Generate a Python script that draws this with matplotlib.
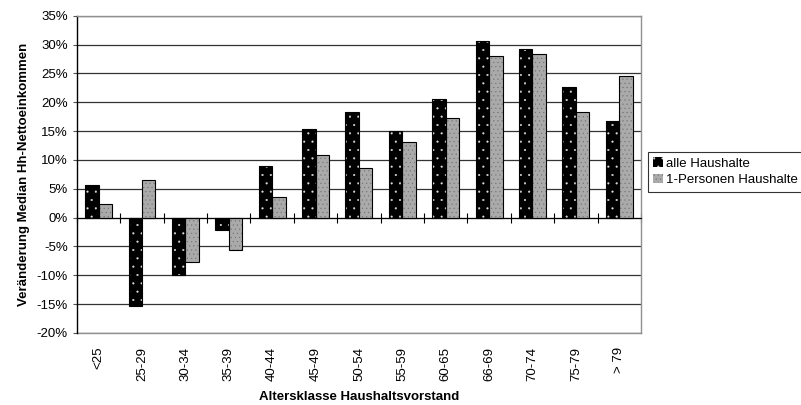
import matplotlib
matplotlib.use("Agg")
import matplotlib.pyplot as plt
import numpy as np
from matplotlib.ticker import FuncFormatter, MultipleLocator

plt.rcParams["font.family"] = ["Liberation Sans", "DejaVu Sans"]
plt.rcParams["font.size"] = 9.5
plt.rcParams["hatch.linewidth"] = 0.3

categories = ["<25", "25-29", "30-34", "35-39", "40-44", "45-49", "50-54",
              "55-59", "60-65", "66-69", "70-74", "75-79", "> 79"]
alle = [5.7, -15.3, -9.9, -2.1, 8.9, 15.3, 18.4, 15.1, 20.5, 30.6, 29.3, 22.6, 16.7]
einpers = [2.4, 6.5, -7.7, -5.6, 3.5, 10.8, 8.6, 13.1, 17.2, 28.1, 28.3, 18.4, 24.6]

fig = plt.figure(figsize=(8.01, 4.05), dpi=100)
ax = fig.add_axes([0.0961, 0.178, 0.704, 0.783])

x = np.arange(len(categories))
w = 0.31

# gefüllte Balken mit Punktmuster, danach schwarze Umrandung
ax.bar(x - w / 2, alle, w, color="black", edgecolor="#dddddd", hatch="..",
       linewidth=0, zorder=3)
ax.bar(x + w / 2, einpers, w, color="#aaaaaa", edgecolor="#707070", hatch="....",
       linewidth=0, zorder=3)
ax.bar(x - w / 2, alle, w, fill=False, edgecolor="black", linewidth=0.8, zorder=4)
ax.bar(x + w / 2, einpers, w, fill=False, edgecolor="black", linewidth=0.8, zorder=4)

ax.set_xlim(-0.5, len(categories) - 0.5)
ax.set_ylim(-20, 35)
ax.yaxis.set_major_locator(MultipleLocator(5))
ax.yaxis.set_major_formatter(FuncFormatter(lambda v, p: f"{v:.0f}%"))
ax.grid(axis="y", color="#333333", linewidth=0.9, zorder=0)
ax.tick_params(axis="y", length=3, color="#555555", labelsize=9.5)

# x-Achse auf der Nulllinie mit Trennstrichen zwischen den Klassen
ax.spines["bottom"].set_position(("data", 0))
ax.spines["bottom"].set_color("black")
ax.spines["bottom"].set_zorder(5)
ax.set_xticks(np.arange(len(categories) + 1) - 0.5)
ax.tick_params(axis="x", direction="inout", length=7, labelbottom=False, color="black")
ax.spines["left"].set_color("black")
ax.spines["left"].set_linewidth(1.0)
for s in ("top", "right"):
    ax.spines[s].set_color("#909090")
    ax.spines[s].set_linewidth(1.0)

sec = ax.secondary_xaxis("bottom")
sec.set_xticks(x)
sec.set_xticklabels(categories, rotation=90, fontsize=9.5)
sec.tick_params(length=0, pad=10)
sec.spines["bottom"].set_color("#909090")
sec.spines["bottom"].set_linewidth(1.0)
sec.set_xlabel("Altersklasse Haushaltsvorstand", fontweight="bold", fontsize=9.5,
               labelpad=7)

ax.set_ylabel("Veränderung Median Hh-Nettoeinkommen", fontweight="bold", fontsize=9.5,
              labelpad=5)

h1 = ax.bar([0], [0], 0, color="black", edgecolor="#dddddd", hatch="..", linewidth=0)
h2 = ax.bar([0], [0], 0, color="#aaaaaa", edgecolor="#707070", hatch="....", linewidth=0)
leg = fig.legend([h1, h2], ["alle Haushalte", "1-Personen Haushalte"],
                 loc="upper left", bbox_to_anchor=(648 / 801, 1 - 152 / 405),
                 fontsize=9.5, frameon=True, fancybox=False, edgecolor="black",
                 handlelength=0.7, handleheight=0.7, handletextpad=0.25,
                 borderpad=0.4, labelspacing=0.35, borderaxespad=0)
leg.get_frame().set_linewidth(0.8)

fig.savefig("out.png", dpi=100)
